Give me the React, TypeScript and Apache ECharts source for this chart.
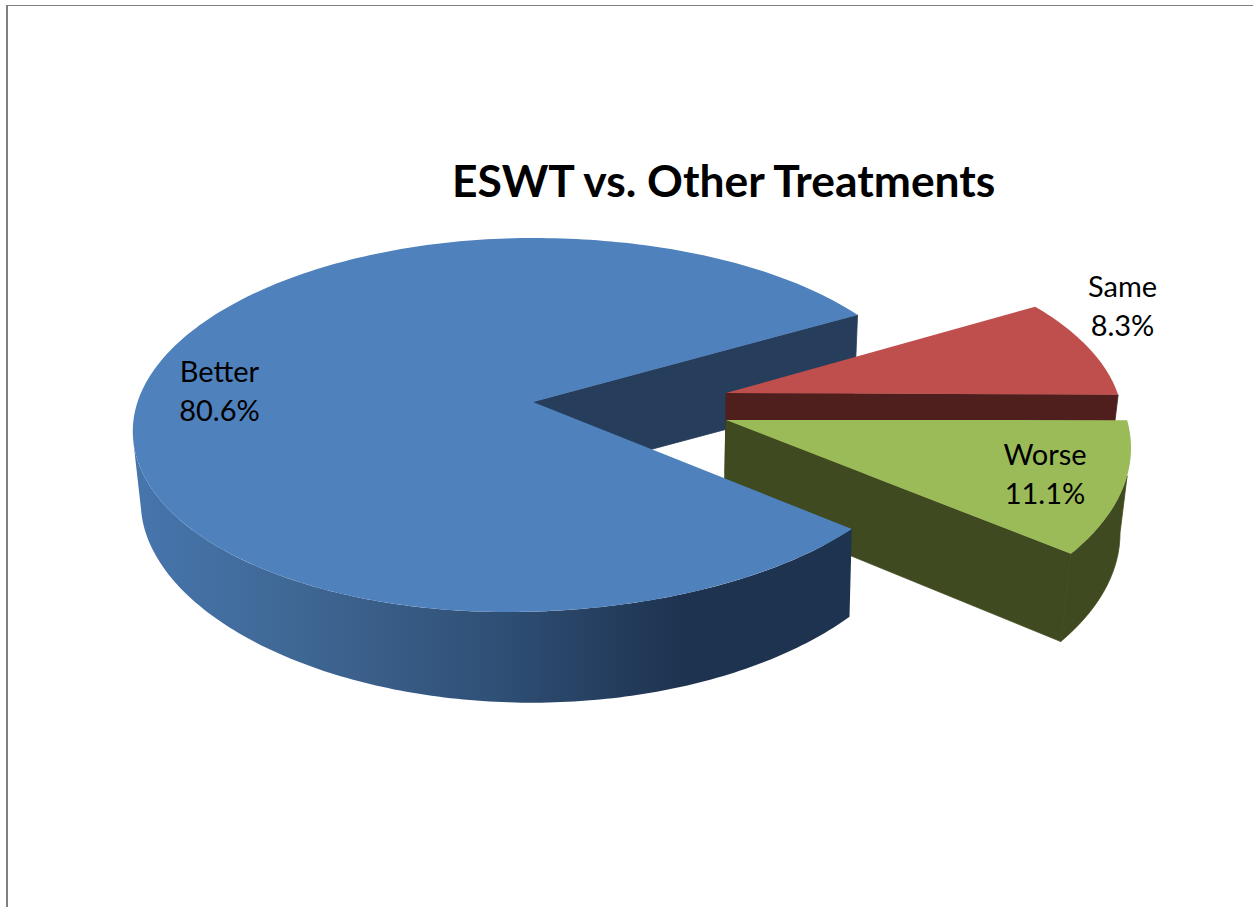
import React, { useEffect, useRef } from "react";
import * as echarts from "echarts";

const TITLE = "ESWT vs. Other Treatments";
const categories = ["Better", "Same", "Worse"];
const percents = [80.6, 8.3, 11.1];
const topColors = ["#4F81BD", "#BF4F4C", "#9BBB59"];
const wallColors = ["#263D5C", "#4F1F1E", "#404A20"];
const sideColors = ["", "#4F1F1E", "#404A20"];

// Projection of each exploded slice: the marks are computed from the values through these.
type Ell = { cx: number; cy: number; rx: number; rxLeft: number; ry: number; skew: number; shear: number };
const startAngles = [33.8, -38.85, -8];
const topEllipses: Ell[] = [
  { cx: 520, cy: 425, rx: 408, rxLeft: 387, ry: 187, skew: 0, shear: -13 },
  { cx: 726, cy: 424, rx: 397, rxLeft: 397, ry: 187, skew: 0, shear: 0 },
  { cx: 734, cy: 448, rx: 397, rxLeft: 397, ry: 200, skew: 0, shear: 0 },
];
const bottomEllipses: Ell[] = [
  { cx: 531.6, cy: 509, rx: 390.6, rxLeft: 390.6, ry: 193.7, skew: 0.037, shear: 0 },
  { cx: 723, cy: 505, rx: 390, rxLeft: 390, ry: 187, skew: 0, shear: 0 },
  { cx: 729, cy: 533, rx: 391, rxLeft: 391, ry: 205, skew: 0, shear: 0 },
];
const apexTop = [[533, 402], [726, 393], [726, 420]];
const apexBottom = [[533, 481], [725, 473], [724, 504]];
const labelAt = [[219.5, 390], [1122.5, 305], [1045, 473]];

const rad = (d: number) => (d * Math.PI) / 180;
const pt = (e: Ell, deg: number): number[] => {
  const c = Math.cos(rad(deg));
  const s = Math.sin(rad(deg));
  return [e.cx + (c >= 0 ? e.rx : e.rxLeft) * c * (1 - e.skew * s) + e.shear * s, e.cy + e.ry * s];
};
const arc = (e: Ell, from: number, to: number): number[][] => {
  const n = Math.max(2, Math.ceil(Math.abs(to - from)));
  const out: number[][] = [];
  for (let i = 0; i <= n; i++) out.push(pt(e, from + ((to - from) * i) / n));
  return out;
};
const total = percents.reduce((a, b) => a + b, 0);
const span = (i: number) => (percents[i] / total) * 360;

const poly = (points: number[][], fill: any, seal = false) => ({
  type: "polygon",
  shape: { points },
  style: seal ? { fill, stroke: fill, lineWidth: 0.8 } : { fill, stroke: null },
  silent: true,
});

const betterSide = () =>
  new echarts.graphic.LinearGradient(
    140, 0, 860, 0,
    [
      { offset: 0, color: "#4675AC" },
      { offset: 0.22, color: "#3F6794" },
      { offset: 0.5, color: "#2F4F75" },
      { offset: 0.75, color: "#1E3350" },
      { offset: 1, color: "#1E334F" },
    ],
    true
  );

const wallOf = (i: number) => {
  const deg = startAngles[i] + span(i);
  return poly([apexTop[i], pt(topEllipses[i], deg), pt(bottomEllipses[i], deg), apexBottom[i]], wallColors[i], true);
};
const topOf = (i: number) =>
  poly([apexTop[i], ...arc(topEllipses[i], startAngles[i], startAngles[i] + span(i))], topColors[i]);

const renderers: (() => any[])[] = [
  () => [wallOf(0)],
  () => [wallOf(1), topOf(1)],
  () => {
    const s = startAngles[2];
    const e = s + span(2);
    return [
      wallOf(2),
      poly([...arc(topEllipses[2], e, s + 16), ...arc(bottomEllipses[2], s + 8, e)], sideColors[2], true),
      topOf(2),
    ];
  },
  () => {
    const s = startAngles[0];
    return [
      poly([...arc(topEllipses[0], s, 175), ...arc(bottomEllipses[0], 180, s)], betterSide()),
      topOf(0),
    ];
  },
];

export default function App() {
  const ref = useRef<HTMLDivElement>(null);
  useEffect(() => {
    document.body.style.margin = "0";
    const chart = echarts.init(ref.current!, undefined, { renderer: "svg" });
    const font = "Lato, sans-serif";
    chart.setOption({
      animation: false,
      backgroundColor: "#ffffff",
      title: {
        text: TITLE,
        left: 447,
        top: 152,
        textStyle: { fontFamily: font, fontSize: 44.4, fontWeight: "bold", color: "#000000" },
      },
      graphic: [
        { type: "rect", shape: { x: 6, y: 5, width: 1247, height: 1 }, style: { fill: "#808080" } },
        { type: "rect", shape: { x: 6, y: 5, width: 2, height: 902 }, style: { fill: "#808080" } },
      ],
      series: [
        {
          type: "custom",
          coordinateSystem: "none",
          silent: true,
          data: renderers.map((_, i) => i),
          renderItem: (p: any) => ({ type: "group", children: renderers[p.dataIndex]() }),
        },
        {
          type: "custom",
          coordinateSystem: "none",
          silent: true,
          z: 5,
          data: percents,
          renderItem: (p: any) => {
            const i = p.dataIndex;
            return {
              type: "text",
              style: {
                text: `${categories[i]}\n${percents[i].toFixed(1)}%`,
                x: labelAt[i][0],
                y: labelAt[i][1],
                align: "center",
                verticalAlign: "middle",
                lineHeight: 38.5,
                fontFamily: font,
                fontSize: 29,
                fill: "#000000",
              },
            };
          },
        },
      ],
    });
    return () => chart.dispose();
  }, []);
  return <div ref={ref} style={{ width: 1253, height: 907 }} />;
}
